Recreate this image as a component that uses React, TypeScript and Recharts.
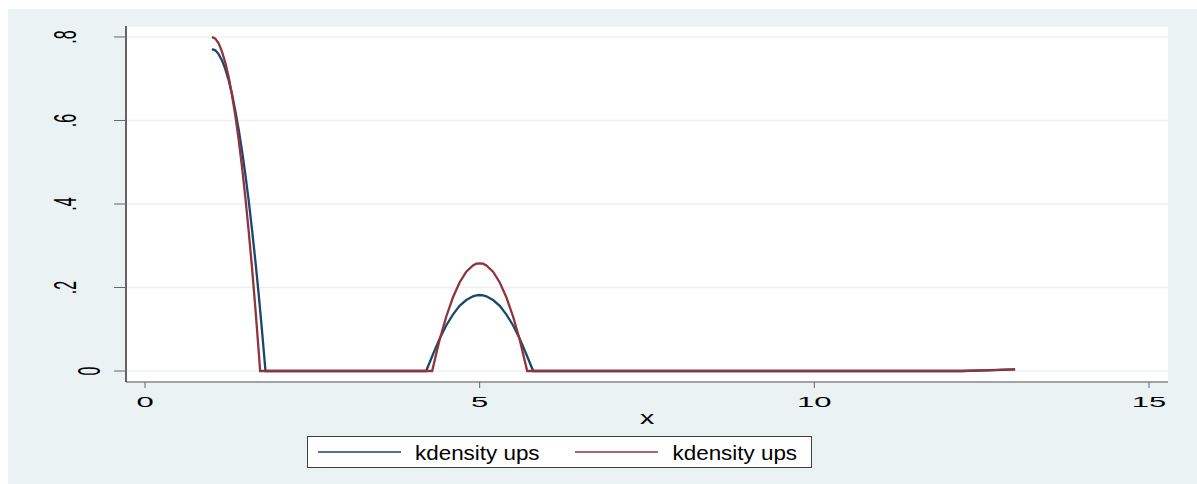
import React from 'react';
import { LineChart, Line, XAxis, YAxis, CartesianGrid } from 'recharts';

// kdensity curves (x, density)
const blueX = [1.0, 1.05, 1.1, 1.15, 1.2, 1.25, 1.3, 1.35, 1.4, 1.45, 1.5, 1.55, 1.6, 1.65, 1.7, 1.75, 1.8, 4.2, 4.3, 4.4, 4.5, 4.6, 4.7, 4.8, 4.9, 4.95, 5.0, 5.05, 5.1, 5.2, 5.3, 5.4, 5.5, 5.6, 5.7, 5.8, 12.2, 12.6, 13.0];
const blueY = [0.771, 0.768, 0.759, 0.744, 0.723, 0.696, 0.663, 0.623, 0.578, 0.527, 0.47, 0.407, 0.337, 0.262, 0.181, 0.093, 0, 0, 0.039, 0.077, 0.109, 0.135, 0.156, 0.17, 0.179, 0.181, 0.182, 0.181, 0.179, 0.17, 0.156, 0.135, 0.109, 0.077, 0.039, 0, 0, 0.0015, 0.004];

const redX = [1.0, 1.05, 1.1, 1.15, 1.2, 1.25, 1.3, 1.35, 1.4, 1.45, 1.5, 1.55, 1.6, 1.65, 1.7, 1.72, 4.29, 4.4, 4.5, 4.6, 4.7, 4.8, 4.9, 4.95, 5.0, 5.05, 5.1, 5.2, 5.3, 5.4, 5.5, 5.6, 5.71, 12.2, 12.6, 13.0];
const redY = [0.8, 0.796, 0.785, 0.765, 0.738, 0.704, 0.661, 0.611, 0.553, 0.488, 0.414, 0.333, 0.245, 0.148, 0.044, 0, 0, 0.074, 0.13, 0.176, 0.212, 0.238, 0.253, 0.257, 0.258, 0.257, 0.253, 0.238, 0.212, 0.176, 0.13, 0.074, 0, 0, 0.002, 0.004];

const seriesNames = ['kdensity ups', 'kdensity ups'];
const seriesColors = ['#1a476f', '#90353b'];

const xTicks = [0, 5, 10, 15];
const yTicks = [0, 0.2, 0.4, 0.6, 0.8];
const yTickLabels = ['0', '.2', '.4', '.6', '.8'];
const xTitle = 'x';

const blueData = blueX.map((x, i) => ({ x, y: blueY[i] }));
const redData = redX.map((x, i) => ({ x, y: redY[i] }));

const FONT = '"Liberation Sans", Arial, Helvetica, sans-serif';
const BG = '#eaf2f3';

// Stata output was stretched horizontally, so text is widened with scale()
function XTick(props: any) {
  const { x, y, payload } = props;
  return (
    <text
      transform={`translate(${x},${y + 19}) scale(2,1)`}
      textAnchor="middle"
      fontSize={15.5}
      fontFamily={FONT}
      fill="#000"
    >
      {payload.value}
    </text>
  );
}

function YTick(props: any) {
  const { x, y, payload } = props;
  const idx = yTicks.indexOf(payload.value);
  const label = idx >= 0 ? yTickLabels[idx] : String(payload.value);
  const bx = x + (payload.value === 0 ? -14 : -38);
  return (
    <text
      transform={`translate(${bx},${y}) scale(2,1) rotate(-90)`}
      textAnchor="middle"
      fontSize={16}
      fontFamily={FONT}
      fill="#000"
    >
      {label}
    </text>
  );
}

export default function App() {
  const W = 1189;
  const H = 475;
  return (
    <div style={{ position: 'absolute', left: 8, top: 9, width: W, height: H, background: BG }}>
      <LineChart width={W} height={H} margin={{ top: 17, right: 29, bottom: 101, left: 117 }}>
        <CartesianGrid vertical={false} fill="#ffffff" stroke={BG} strokeWidth={1.5} />
        <XAxis
          type="number"
          dataKey="x"
          domain={[-0.284, 15.284]}
          ticks={xTicks}
          allowDataOverflow
          height={1}
          tickSize={6}
          tickMargin={0}
          stroke="#666"
          axisLine={{ stroke: '#888', strokeWidth: 1.5 }}
          tick={<XTick />}
        />
        <YAxis
          type="number"
          dataKey="y"
          domain={[-0.0263, 0.8263]}
          ticks={yTicks}
          allowDataOverflow
          width={1}
          tickSize={12}
          tickMargin={0}
          stroke="#666"
          axisLine={{ stroke: '#333', strokeWidth: 1.5 }}
          tick={<YTick />}
        />
        <Line
          data={blueData}
          dataKey="y"
          type="linear"
          stroke={seriesColors[0]}
          strokeWidth={2.3}
          dot={false}
          isAnimationActive={false}
        />
        <Line
          data={redData}
          dataKey="y"
          type="linear"
          stroke={seriesColors[1]}
          strokeWidth={2.3}
          dot={false}
          isAnimationActive={false}
        />
      </LineChart>

      {/* axis title and legend, laid over the chart */}
      <svg
        width={W}
        height={H}
        style={{ position: 'absolute', left: 0, top: 0, pointerEvents: 'none' }}
      >
        <text
          transform="translate(639,414.5) scale(1.5,1)"
          textAnchor="middle"
          fontSize={19}
          fontFamily={FONT}
          fill="#000"
        >
          {xTitle}
        </text>
        <rect x={299.5} y={427.5} width={504} height={31} fill="#fff" stroke="#404040" strokeWidth={1} />
        {seriesNames.map((name, i) => {
          const lx = i === 0 ? 310 : 567;
          const tx = i === 0 ? 407 : 664.5;
          return (
            <g key={i}>
              <line x1={lx} x2={lx + 83} y1={443} y2={443} stroke={seriesColors[i]} strokeWidth={1.5} />
              <text
                transform={`translate(${tx},450.5) scale(1.15,1)`}
                fontSize={19.5}
                fontFamily={FONT}
                fill="#000"
              >
                {name}
              </text>
            </g>
          );
        })}
      </svg>
    </div>
  );
}
